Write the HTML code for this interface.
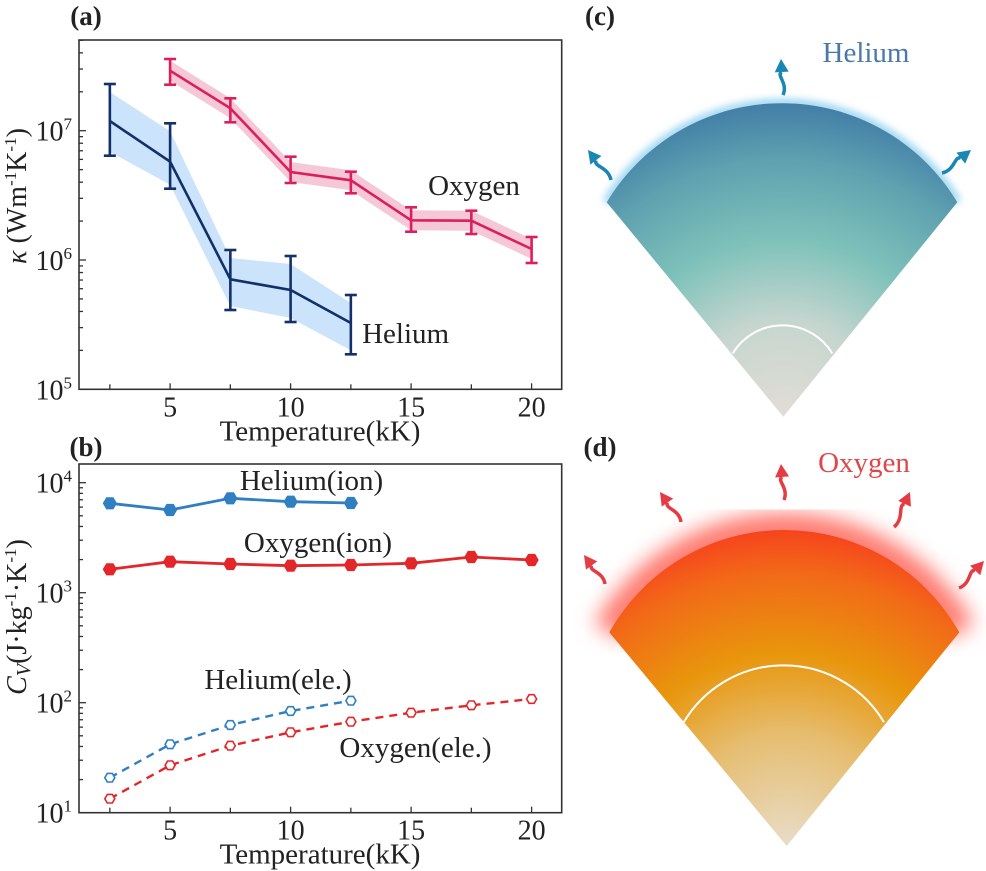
<!DOCTYPE html>
<html><head><meta charset="utf-8"><style>
html,body{margin:0;padding:0;background:#fff;}
svg{display:block;font-family:"Liberation Serif",serif;}
</style></head><body>
<svg id="s" width="986" height="871" viewBox="0 0 986 871" xmlns="http://www.w3.org/2000/svg">
<defs>
<radialGradient id="gc" gradientUnits="userSpaceOnUse" cx="783" cy="417" r="320">
<stop offset="0" stop-color="#e2ddd6"/><stop offset="0.3" stop-color="#c6d6cf"/><stop offset="0.55" stop-color="#7fc2ba"/><stop offset="0.8" stop-color="#5fa2b0"/><stop offset="1" stop-color="#3f7aa6"/>
</radialGradient>
<radialGradient id="gd" gradientUnits="userSpaceOnUse" cx="787" cy="846" r="320">
<stop offset="0" stop-color="#e8ddc8"/><stop offset="0.35" stop-color="#e6bd70"/><stop offset="0.6" stop-color="#e8960c"/><stop offset="0.85" stop-color="#f26a18"/><stop offset="1" stop-color="#f7401e"/>
</radialGradient>
<filter id="bl1" x="-20%" y="-20%" width="140%" height="140%"><feGaussianBlur stdDeviation="4"/></filter>
<filter id="bl2" x="-20%" y="-20%" width="140%" height="140%"><feGaussianBlur stdDeviation="10"/></filter>
</defs>
<g id="g"></g>
</svg>
<script>
var o='';
function L(x1,y1,x2,y2,c,w,ex){o+='<line x1="'+x1+'" y1="'+y1+'" x2="'+x2+'" y2="'+y2+'" stroke="'+c+'" stroke-width="'+w+'" '+(ex||'')+'/>';}
function T(x,y,t,sz,ex){o+='<text x="'+x+'" y="'+y+'" font-size="'+sz+'" '+(ex||'')+'>'+t+'</text>';}
function xa(t){return 170.1+(t-5)*24.1;}
var lg=[0,.301,.477,.602,.699,.778,.845,.903,.954];
function axes(top,bot,dec,e0,n){
 o+='<rect x="79" y="'+top+'" width="482.7" height="'+(bot-top)+'" fill="none" stroke="#333" stroke-width="1.6"/>';
 for(var i=1;i<=8;i++){var x=xa(i*2.5);L(x,bot,x,bot-(i%2==0?6:5),'#333',1.3);}
 [5,10,15,20].forEach(function(t){T(xa(t),bot+27,t,28,'text-anchor="middle" fill="#222"');});
 T(320,bot+51,'Temperature(kK)',29,'text-anchor="middle" fill="#222"');
 for(var e=0;e<n;e++){for(var k=0;k<9;k++){var y=bot-(e+lg[k])*dec;if(y<top)continue;L(79,y,k==0?86:83,y,'#333',1.3);}}
 for(var e=0;e<n;e++){var y=bot-e*dec;if(y<top-30)continue;T(72,y+10,'10<tspan dy="-11" font-size="17">'+(e0+e)+'</tspan>',28,'text-anchor="end" fill="#222"');}
}
var oxY=[[5,70.7,59,84.7],[7.5,108.3,98.3,122.3],[10,172,156.7,183],[12.5,180.3,171.7,193.3],[15,220.3,207.3,231.7],[17.5,220.7,210.7,234],[20,249,237,263]];
var heY=[[2.5,121,84,155.7],[5,161.7,123.3,188.7],[7.5,279.3,250,310],[10,290,256,322],[12.5,323,295,354.3]];
function band(d,f,fn){var p=d.map(function(a){return xa(a[0])+','+fn(a,0);}).concat(d.slice().reverse().map(function(a){return xa(a[0])+','+fn(a,1);}));o+='<polygon points="'+p.join(' ')+'" fill="'+f+'"/>';}
band(heY,'#cbe3fb',function(a,s){return s?a[3]-4:a[2]+8;});
band(oxY,'#f5c8d8',function(a,s){return s?a[1]+10:a[1]-10;});
function series(d,c){o+='<polyline points="'+d.map(function(a){return xa(a[0])+','+a[1];}).join(' ')+'" fill="none" stroke="'+c+'" stroke-width="2.6"/>';
 d.forEach(function(a){var x=xa(a[0]);L(x,a[2],x,a[3],c,2.6);L(x-6,a[2],x+6,a[2],c,2.6);L(x-6,a[3],x+6,a[3],c,2.6);});}
series(heY,'#12306a');series(oxY,'#dc1f5b');
axes(40,389.3,129.3,5,3);
T(86,25,'(a)',27,'text-anchor="middle" font-weight="bold" fill="#222"');
T(474,195,'Oxygen',29,'text-anchor="middle" fill="#222"');
T(405.6,343,'Helium',29,'text-anchor="middle" fill="#222"');
o+='<text transform="translate(26,196) rotate(-90)" text-anchor="middle" font-size="28" fill="#222"><tspan font-style="italic">κ</tspan> (Wm<tspan dy="-10" font-size="17">-1</tspan><tspan dy="10">K</tspan><tspan dy="-10" font-size="17">-1</tspan><tspan dy="10">)</tspan></text>';
function hex(x,y,r,c,fill){var p=[];for(var i=0;i<6;i++){var a=Math.PI/3*i;p.push((x+r*Math.cos(a)).toFixed(1)+','+(y+r*Math.sin(a)).toFixed(1));}o+='<polygon points="'+p.join(' ')+'" fill="'+(fill?c:'#fff')+'" stroke="'+c+'" stroke-width="'+(fill?1:1.6)+'"/>';}
function ser2(ts,ys,c,dash){o+='<polyline points="'+ts.map(function(t,i){return xa(t)+','+ys[i];}).join(' ')+'" fill="none" stroke="'+c+'" stroke-width="'+(dash?2.4:2.8)+'" '+(dash?'stroke-dasharray="8,6"':'')+'/>';
 ts.forEach(function(t,i){hex(xa(t),ys[i],dash?5:6.5,c,!dash);});}
var t5=[2.5,5,7.5,10,12.5],t8=[2.5,5,7.5,10,12.5,15,17.5,20];
ser2(t5,[503.3,510,498.3,501.7,503],'#2f7fc1',0);
ser2(t8,[569.3,561.7,564,565.7,565,563.3,557,560],'#e3262a',0);
ser2(t5,[777.7,744.3,725,711,700.7],'#2f7fc1',1);
ser2(t8,[798.7,765.3,745.7,732.3,721.7,712.7,705.3,699],'#e3262a',1);
axes(464,812.7,110,1,4);
T(86,456,'(b)',27,'text-anchor="middle" font-weight="bold" fill="#222"');
T(311.5,490,'Helium(ion)',29,'text-anchor="middle" fill="#222"');
T(318,552,'Oxygen(ion)',29,'text-anchor="middle" fill="#222"');
T(278,689,'Helium(ele.)',29,'text-anchor="middle" fill="#222"');
T(415.5,757,'Oxygen(ele.)',29,'text-anchor="middle" fill="#222"');
o+='<text transform="translate(26,617) rotate(-90)" text-anchor="middle" font-size="28" fill="#222"><tspan font-style="italic">C<tspan font-size="20" dy="4">V</tspan></tspan><tspan dy="-4">(J·kg</tspan><tspan dy="-10" font-size="17">-1</tspan><tspan dy="10">·K</tspan><tspan dy="-10" font-size="17">-1</tspan><tspan dy="10">)</tspan></text>';
function fan(ax,ay,lx,ly,rx,ry,R,iR,ilx,ily,irx,iry,grad,glow,gw,gf){
 o+='<path d="M'+lx+','+ly+' A'+R+','+R+' 0 0,1 '+rx+','+ry+'" fill="none" stroke="'+glow+'" stroke-width="'+gw+'" filter="url(#'+gf+')"/>';
 o+='<path d="M'+ax+','+ay+' L'+lx+','+ly+' A'+R+','+R+' 0 0,1 '+rx+','+ry+' Z" fill="url(#'+grad+')"/>';
 o+='<path d="M'+ilx+','+ily+' A'+iR+','+iR+' 0 0,1 '+irx+','+iry+'" fill="none" stroke="#fff" stroke-width="2"/>';
}
fan(783.3,416.7,606.7,202.3,957.3,202.3,204.6,58.3,732.7,353.3,832.3,353.3,'gc','#8fd0ee',8,'bl1');
fan(786.7,846,609.3,632.3,959.3,632.3,200.8,116.5,683.7,722.3,884,722.3,'gd','#ff7a70',34,'bl2');
function arrow(x0,y0,x1,y1,c){var dx=x1-x0,dy=y1-y0,l=Math.hypot(dx,dy),ux=dx/l,uy=dy/l,nx=-uy,ny=ux;
 var hx=x1-ux*13,hy=y1-uy*13;
 var m1x=x0+dx*0.33+nx*6,m1y=y0+dy*0.33+ny*6,m2x=x0+dx*0.55-nx*6,m2y=y0+dy*0.55-ny*6;
 o+='<path d="M'+x0+','+y0+' C'+m1x+','+m1y+' '+m2x+','+m2y+' '+hx+','+hy+'" fill="none" stroke="'+c+'" stroke-width="3.5"/>';
 o+='<polygon points="'+x1+','+y1+' '+(hx+nx*7)+','+(hy+ny*7)+' '+(hx-nx*7)+','+(hy-ny*7)+'" fill="'+c+'"/>';}
arrow(783,95,781,59,'#1a86b3');arrow(611,180,588,150,'#1a86b3');arrow(942,173,971,150,'#1a86b3');
arrow(784,500,781,464,'#e43c42');arrow(681,522,660,492,'#e43c42');arrow(605,584,584,555,'#e43c42');arrow(894,527,910,492,'#e43c42');arrow(959,588,984,561,'#e43c42');
T(600,25,'(c)',27,'text-anchor="middle" font-weight="bold" fill="#222"');
T(600,456,'(d)',27,'text-anchor="middle" font-weight="bold" fill="#222"');
T(866,62,'Helium',29,'text-anchor="middle" fill="#4a78a8"');
T(864,472,'Oxygen',29,'text-anchor="middle" fill="#e0464a"');
document.getElementById('g').innerHTML=o;
</script>
</body></html>
